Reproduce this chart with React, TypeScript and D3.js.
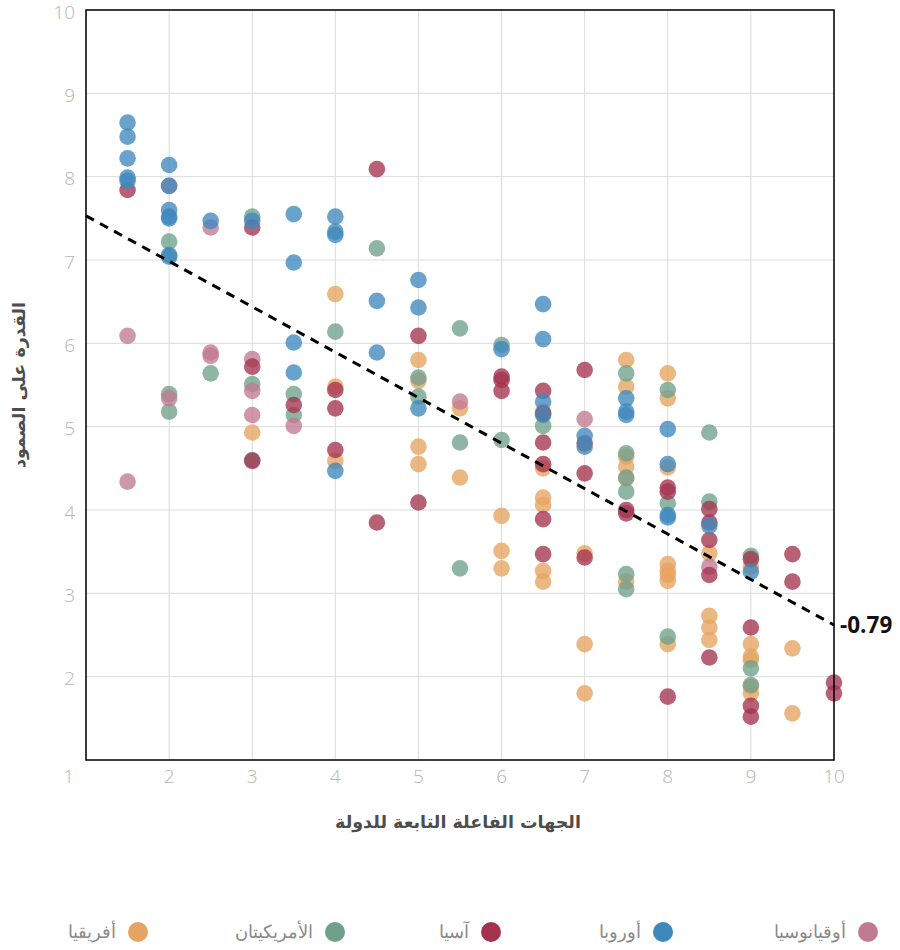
import * as d3 from 'd3';

// points per region: [state actors, resilience]
const africa: [number, number][] = [
  [3, 4.93], [4, 6.59], [4, 5.48], [4, 4.59], [5, 5.8], [5, 5.55], [5, 4.76], [5, 4.55],
  [5.5, 5.22], [5.5, 4.39], [6, 3.93], [6, 3.51], [6, 3.3],
  [6.5, 5.18], [6.5, 4.5], [6.5, 4.15], [6.5, 4.06], [6.5, 3.27], [6.5, 3.14],
  [7, 3.48], [7, 2.39], [7, 1.8],
  [7.5, 5.8], [7.5, 5.48], [7.5, 4.64], [7.5, 4.52], [7.5, 4.38], [7.5, 3.14],
  [8, 5.64], [8, 5.34], [8, 4.51], [8, 3.35], [8, 3.27], [8, 3.22], [8, 3.15], [8, 2.39],
  [8.5, 3.48], [8.5, 2.73], [8.5, 2.59], [8.5, 2.44],
  [9, 3.32], [9, 2.39], [9, 2.24], [9, 2.2], [9, 1.88], [9, 1.8],
  [9.5, 2.34], [9.5, 1.56],
];
const americas: [number, number][] = [
  [2, 7.22], [2, 5.39], [2, 5.18], [2.5, 5.64], [3, 7.52], [3, 5.51], [3, 4.6],
  [3.5, 5.39], [3.5, 5.14], [4, 6.14], [4.5, 7.14], [5, 5.59], [5, 5.36],
  [5.5, 6.18], [5.5, 4.81], [5.5, 3.3], [6, 5.98], [6, 4.84], [6.5, 5.01],
  [7.5, 5.64], [7.5, 4.68], [7.5, 4.39], [7.5, 4.22], [7.5, 3.23], [7.5, 3.05],
  [8, 5.44], [8, 4.08], [8, 2.48], [8.5, 4.93], [8.5, 4.1],
  [9, 3.45], [9, 2.1], [9, 1.9],
];
const oceania: [number, number][] = [
  [1.5, 6.09], [1.5, 4.34], [2, 7.89], [2, 5.34], [2.5, 7.39], [2.5, 5.89], [2.5, 5.85],
  [3, 5.81], [3, 5.43], [3, 5.14], [3.5, 5.01], [5.5, 5.3], [7, 5.09], [8.5, 3.32],
];
const asia: [number, number][] = [
  [1.5, 7.84], [3, 7.39], [3, 5.72], [3, 4.59], [3.5, 5.26], [4, 5.44], [4, 5.22], [4, 4.72],
  [4.5, 8.09], [4.5, 3.85], [5, 6.09], [5, 4.09], [6, 5.6], [6, 5.56], [6, 5.43],
  [6.5, 5.43], [6.5, 5.16], [6.5, 4.81], [6.5, 4.55], [6.5, 3.89], [6.5, 3.47],
  [7, 5.68], [7, 4.8], [7, 4.44], [7, 3.43], [7.5, 4.0], [7.5, 3.96],
  [8, 4.27], [8, 4.22], [8, 1.76],
  [8.5, 4.01], [8.5, 3.85], [8.5, 3.64], [8.5, 3.22], [8.5, 2.23],
  [9, 3.41], [9, 2.59], [9, 1.65], [9, 1.52], [9.5, 3.47], [9.5, 3.14], [10, 1.93], [10, 1.8],
];
const europe: [number, number][] = [
  [1.5, 8.65], [1.5, 8.48], [1.5, 8.22], [1.5, 7.99], [1.5, 7.95],
  [2, 8.14], [2, 7.89], [2, 7.6], [2, 7.52], [2, 7.5], [2, 7.06], [2, 7.04],
  [2.5, 7.47], [3, 7.47], [3.5, 7.55], [3.5, 6.97], [3.5, 6.01], [3.5, 5.65],
  [4, 7.52], [4, 7.34], [4, 7.3], [4, 4.47], [4.5, 6.51], [4.5, 5.89],
  [5, 6.76], [5, 6.43], [5, 5.22], [6, 5.93], [6.5, 6.47], [6.5, 6.05], [6.5, 5.3], [6.5, 5.14],
  [7, 4.89], [7, 4.76], [7.5, 5.34], [7.5, 5.18], [7.5, 5.14],
  [8, 4.97], [8, 4.55], [8, 3.94], [8, 3.91], [8.5, 3.81], [9, 3.26],
];

// trend line values at x = 1 and x = 10, and its label
const trendX = [1, 10];
const trendY = [7.53, 2.62];
const trendLabel = '-0.79';

const xTicks = [1, 2, 3, 4, 5, 6, 7, 8, 9, 10];
const yTicks = [2, 3, 4, 5, 6, 7, 8, 9, 10];

const series = [
  { name: 'أفريقيا', color: '#e5a462', points: africa },
  { name: 'الأمريكيتان', color: '#6fa08c', points: americas },
  { name: 'أوقيانوسيا', color: '#c07a92', points: oceania },
  { name: 'آسيا', color: '#a3334f', points: asia },
  { name: 'أوروبا', color: '#3f88bd', points: europe },
];
// legend order left to right
const legendOrder = ['أفريقيا', 'الأمريكيتان', 'آسيا', 'أوروبا', 'أوقيانوسيا'];
const legendX = [138, 335, 491, 663, 868];

const App = () => {
  const width = 900;
  const height = 950;
  const plot = { left: 86, right: 834, top: 10, bottom: 760 };

  const x = d3.scaleLinear().domain([1, 10]).range([plot.left, plot.right]);
  const y = d3.scaleLinear().domain([1, 10]).range([plot.bottom, plot.top]);

  const trend = d3.line<number>()
    .x((d) => x(d))
    .y((_, i) => y(trendY[i]));

  const tickFont = '"Open Sans", "Noto Sans", sans-serif';
  const arFont = '"DejaVu Sans", "Noto Sans", sans-serif';

  return (
    <svg width={width} height={height} style={{ position: 'absolute', left: 0, top: 0 }}>
      <rect x={0} y={0} width={width} height={height} fill="#fff" />

      {/* grid */}
      {xTicks.map((t) => (
        <line key={'gx' + t} x1={x(t)} x2={x(t)} y1={plot.top} y2={plot.bottom} stroke="#dcdcdc" strokeWidth={1} />
      ))}
      {yTicks.map((t) => (
        <line key={'gy' + t} x1={plot.left} x2={plot.right} y1={y(t)} y2={y(t)} stroke="#dcdcdc" strokeWidth={1} />
      ))}

      {/* tick labels */}
      {yTicks.map((t) => (
        <text key={'ty' + t} x={plot.left - 11} y={y(t) + 2} dy="0.35em" textAnchor="end"
          fontFamily={tickFont} fontWeight={300} fontSize={19} fill="#b5b5b5">{t}</text>
      ))}
      {xTicks.map((t, i) => (
        <text key={'tx' + t} x={i === 0 ? x(t) - 12 : x(t)} y={plot.bottom + 16} dy="0.35em"
          textAnchor={i === 0 ? 'end' : 'middle'}
          fontFamily={tickFont} fontWeight={300} fontSize={19} fill="#b5b5b5">{t}</text>
      ))}

      {/* dots */}
      {series.map((s) => (
        <g key={s.name}>
          {s.points.map((p, i) => (
            <circle key={i} cx={x(p[0])} cy={y(p[1])} r={8.3} fill={s.color} fillOpacity={0.78} />
          ))}
        </g>
      ))}

      {/* frame */}
      <rect x={plot.left} y={plot.top} width={plot.right - plot.left} height={plot.bottom - plot.top}
        fill="none" stroke="#000" strokeWidth={1.5} />

      {/* trend */}
      <path d={trend(trendX) || ''} fill="none" stroke="#000" strokeWidth={3} strokeDasharray="9,7" />
      <text x={x(10) + 6} y={y(trendY[1])} dy="0.35em" fontFamily={tickFont} fontWeight={700}
        fontSize={22.5} fill="#111">{trendLabel}</text>

      {/* axis titles */}
      <text x={(plot.left + plot.right) / 2 - 2} y={822} dy="0.35em" textAnchor="middle"
        fontFamily={arFont} fontWeight={700} fontSize={17.5} fill="#4d4d4d">الجهات الفاعلة التابعة للدولة</text>
      <text transform={`translate(19,${(plot.top + plot.bottom) / 2}) rotate(-90)`} dy="0.35em"
        textAnchor="middle"
        fontFamily={arFont} fontWeight={700} fontSize={17.5} fill="#4d4d4d">القدرة على الصمود</text>

      {/* legend */}
      {legendOrder.map((name, i) => {
        const s = series.find((d) => d.name === name)!;
        return (
          <g key={'lg' + name} transform={`translate(${legendX[i]},932)`}>
            <circle r={10} fill={s.color} />
            <text x={-22} dy="0.35em" textAnchor="end"
              fontFamily={'"DejaVu Serif", serif'} fontSize={18} fill="#8a8a8a">{name}</text>
          </g>
        );
      })}
    </svg>
  );
};

export default App;
